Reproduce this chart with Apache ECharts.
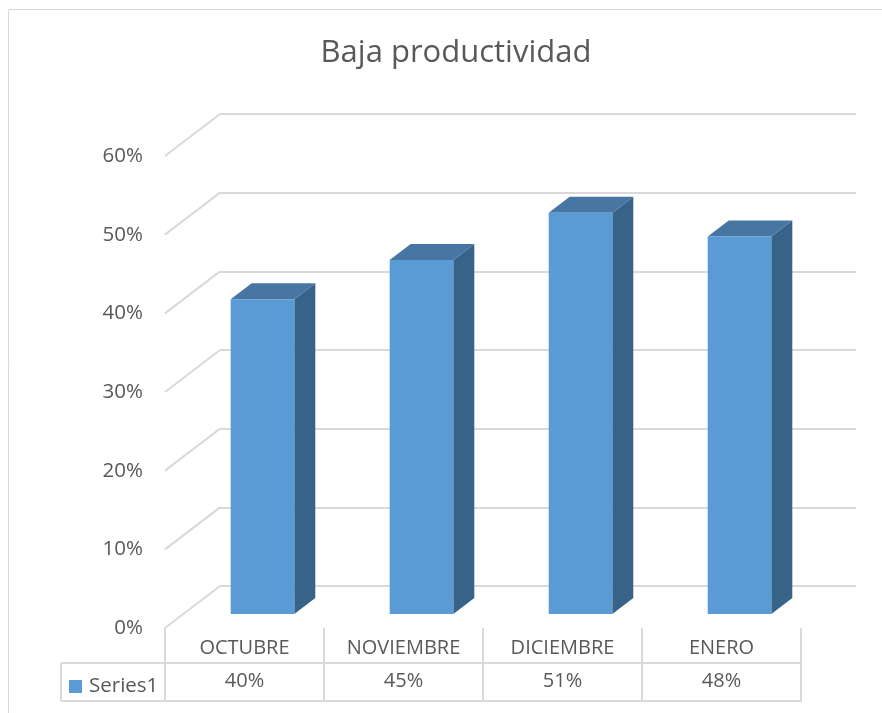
<!DOCTYPE html>
<html>
<head>
<meta charset="utf-8">
<title>Baja productividad</title>
<script src="https://cdn.jsdelivr.net/npm/echarts@6/dist/echarts.min.js"></script>
<style>
  html, body {margin: 0; padding: 0; background: #fff;}
  #main {width: 882px; height: 713px;}
</style>
</head>
<body>
<div id="main"></div>
<script>
function $(id) {return document.getElementById(id)}

// data
var months = ['OCTUBRE', 'NOVIEMBRE', 'DICIEMBRE', 'ENERO'];
var values = [40, 45, 51, 48];
var yTicks = [0, 10, 20, 30, 40, 50, 60];
var seriesName = 'Series1';

var valueLabels = values.map(function (v) { return v + '%'; });

var FONT = 'Open Sans';
var TXT = '#595959';
var LINE = '#d9d9d9';

// oblique "3D" offsets (px)
var WALL_DX = 55, WALL_DY = -42;   // front plane -> back wall
var BAR_DX = 18, BAR_DY = -14;     // front plane -> bar front face
var DEPTH_DX = 21, DEPTH_DY = -16; // bar depth

var chart = echarts.init($('main'), null, {renderer: 'canvas'});

chart.setOption({
  backgroundColor: '#fff',
  animation: false,
  textStyle: {fontFamily: FONT},
  title: {
    text: 'Baja productividad',
    left: 451,
    top: 33,
    textAlign: 'center',
    textStyle: {fontFamily: FONT, fontSize: 31, fontWeight: 'normal', color: TXT}
  },
  legend: {
    data: [seriesName],
    left: 64,
    top: 671,
    icon: 'rect',
    itemWidth: 13,
    itemHeight: 13,
    itemGap: 6,
    textStyle: {fontFamily: FONT, fontSize: 20.5, color: TXT, padding: [0, 0, 0, 2]}
  },
  grid: [
    // front plane
    {left: 165, right: 81, top: 156, bottom: 85},
    // back wall
    {left: 220, right: 26, top: 114, bottom: 127}
  ],
  xAxis: [
    {
      gridIndex: 0,
      type: 'category',
      data: months,
      axisLine: {show: false},
      axisTick: {show: true, length: 74, interval: 0, lineStyle: {color: LINE, width: 2}},
      axisLabel: {margin: 10, fontSize: 20, color: TXT, fontFamily: FONT, interval: 0}
    },
    {
      gridIndex: 0,
      type: 'category',
      position: 'bottom',
      data: valueLabels,
      axisLine: {show: false},
      axisTick: {show: false},
      axisLabel: {margin: 43, fontSize: 20, color: TXT, fontFamily: FONT, interval: 0}
    },
    {gridIndex: 1, type: 'category', data: months, show: false}
  ],
  yAxis: [
    {
      gridIndex: 0,
      type: 'value',
      min: 0,
      max: 60,
      interval: 10,
      axisLine: {show: false},
      axisTick: {show: false},
      splitLine: {show: false},
      axisLabel: {margin: 22, fontSize: 20.5, color: TXT, fontFamily: FONT, formatter: '{value}%'}
    },
    {
      gridIndex: 1,
      type: 'value',
      min: 0,
      max: 60,
      interval: 10,
      axisLine: {show: false},
      axisTick: {show: false},
      axisLabel: {show: false},
      splitLine: {show: true, lineStyle: {color: LINE, width: 2}}
    }
  ],
  graphic: [
    // chart border
    {type: 'rect', silent: true, z: -10,
      shape: {x: 8.5, y: 9.5, width: 900, height: 800},
      style: {fill: 'none', stroke: LINE, lineWidth: 1}},
    // data table rules
    {type: 'line', silent: true, shape: {x1: 61, y1: 663, x2: 801, y2: 663}, style: {stroke: LINE, lineWidth: 2}},
    {type: 'line', silent: true, shape: {x1: 61, y1: 701, x2: 801, y2: 701}, style: {stroke: LINE, lineWidth: 2}},
    {type: 'line', silent: true, shape: {x1: 61, y1: 663, x2: 61, y2: 701}, style: {stroke: LINE, lineWidth: 2}}
  ],
  series: [
    {
      // side wall diagonals
      name: 'wall',
      type: 'custom',
      xAxisIndex: 0,
      yAxisIndex: 0,
      silent: true,
      data: yTicks.map(function (t) { return [0, t]; }),
      renderItem: function (params, api) {
        var p = api.coord([0, api.value(1)]);
        var x0 = params.coordSys.x;
        return {
          type: 'line',
          shape: {x1: x0, y1: p[1], x2: x0 + WALL_DX, y2: p[1] + WALL_DY},
          style: {stroke: LINE, lineWidth: 2}
        };
      }
    },
    {
      name: seriesName,
      type: 'custom',
      xAxisIndex: 0,
      yAxisIndex: 0,
      itemStyle: {color: '#5B9BD5'},
      data: values.map(function (v, i) { return [i, v]; }),
      renderItem: function (params, api) {
        var idx = api.value(0);
        var top = api.coord([idx, api.value(1)]);
        var base = api.coord([idx, 0]);
        var w = api.size([1, 0])[0] * 0.4;
        var x0 = top[0] - w / 2 + BAR_DX, x1 = x0 + w;
        var yT = top[1] + BAR_DY, yB = base[1] + BAR_DY;
        return {
          type: 'group',
          children: [
            {type: 'polygon',
              shape: {points: [[x1, yT], [x1 + DEPTH_DX, yT + DEPTH_DY], [x1 + DEPTH_DX, yB + DEPTH_DY], [x1, yB]]},
              style: {fill: '#386389'}},
            {type: 'polygon',
              shape: {points: [[x0, yT], [x0 + DEPTH_DX, yT + DEPTH_DY], [x1 + DEPTH_DX, yT + DEPTH_DY], [x1, yT]]},
              style: {fill: '#4676A1'}},
            {type: 'polygon',
              shape: {points: [[x0, yT], [x1, yT], [x1, yB], [x0, yB]]},
              style: {fill: '#5B9BD5'}}
          ]
        };
      }
    }
  ]
});
</script>
</body>
</html>
